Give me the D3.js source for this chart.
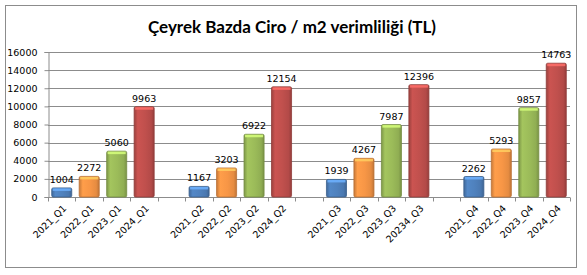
<!DOCTYPE html>
<html lang="tr">
<head>
<meta charset="UTF-8" />
<title>Çeyrek Bazda Ciro / m2 verimliliği</title>
<script src="https://d3js.org/d3.v7.min.js"></script>
<style>
  body { margin: 0; background: #fff; }
  svg { display: block; }
  .grid line { stroke: #8c8c8c; stroke-width: 1px; }
  .axis path, .axis line { stroke: #8c8c8c; }
  .axis text { font-family: "DejaVu Sans", Verdana, sans-serif; font-size: 9.5px; fill: #000; }
</style>
</head>
<body>
<script>
// kategoriler (boş olanlar çeyrekler arası boşluk)
const categories = [
  "2021_Q1", "2022_Q1", "2023_Q1", "2024_Q1", "",
  "2021_Q2", "2022_Q2", "2023_Q2", "2024_Q2", " ",
  "2021_Q3", "2022_Q3", "2023_Q3", "20234_Q3", "  ",
  "2021_Q4", "2022_Q4", "2023_Q4", "2024_Q4"
];
const values = [
  1004, 2272, 5060, 9963, null,
  1167, 3203, 6922, 12154, null,
  1939, 4267, 7987, 12396, null,
  2262, 5293, 9857, 14763
];
const yearColors = ["#4f81bd", "#f79646", "#9bbb59", "#c0504d"];
const yTicks = [0, 2000, 4000, 6000, 8000, 10000, 12000, 14000, 16000];

const width = 587, height = 275;
const plot = { left: 48, right: 570, top: 52, bottom: 197 };

const svg = d3.select("body").append("svg")
  .attr("width", width)
  .attr("height", height);

// çerçeve
svg.append("rect")
  .attr("x", 5.5).attr("y", 5.5)
  .attr("width", 571).attr("height", 262)
  .attr("fill", "#fff")
  .attr("stroke", "#8c8c8c")
  .attr("stroke-width", 1);

svg.append("text")
  .attr("x", 292)
  .attr("y", 33)
  .attr("text-anchor", "middle")
  .style("font-family", "Lato, 'Open Sans', sans-serif")
  .style("font-weight", "bold")
  .style("font-size", "17px")
  .text("Çeyrek Bazda Ciro / m2 verimliliği (TL)");

const x = d3.scaleBand()
  .domain(categories)
  .range([plot.left, plot.right])
  .paddingInner(0.27)
  .paddingOuter(0.135);

const y = d3.scaleLinear()
  .domain([0, 16000])
  .range([plot.bottom, plot.top]);

// gradyanlar
const defs = svg.append("defs");
yearColors.forEach((c, i) => {
  const g = defs.append("linearGradient")
    .attr("id", "grad" + i)
    .attr("x1", "0%").attr("x2", "100%").attr("y1", "0%").attr("y2", "0%");
  const base = d3.color(c);
  g.append("stop").attr("offset", "0%").attr("stop-color", base.darker(0.6));
  g.append("stop").attr("offset", "18%").attr("stop-color", base.brighter(0.15));
  g.append("stop").attr("offset", "55%").attr("stop-color", base);
  g.append("stop").attr("offset", "85%").attr("stop-color", base.darker(0.2));
  g.append("stop").attr("offset", "100%").attr("stop-color", base.darker(0.7));
});

// yatay ızgara
svg.append("g")
  .attr("class", "grid")
  .selectAll("line")
  .data(yTicks.slice(1))
  .enter()
  .append("line")
  .attr("x1", plot.left).attr("x2", plot.right)
  .attr("y1", d => Math.round(y(d)) + 0.5)
  .attr("y2", d => Math.round(y(d)) + 0.5);

// y ekseni
svg.append("g")
  .attr("class", "axis")
  .attr("transform", `translate(${plot.left + 0.5},0)`)
  .call(d3.axisLeft(y).tickValues(yTicks).tickSize(4).tickPadding(7).tickFormat(d3.format("d")));

// x ekseni (işaretler kategoriler arasında)
const xAxisG = svg.append("g")
  .attr("class", "axis")
  .attr("transform", `translate(0,${Math.round(plot.bottom) + 0.5})`);

xAxisG.append("line")
  .attr("x1", plot.left).attr("x2", plot.right)
  .attr("y1", 0).attr("y2", 0);

const step = x.step();
xAxisG.selectAll("line.tick")
  .data(d3.range(categories.length + 1))
  .enter()
  .append("line")
  .attr("class", "tick")
  .attr("x1", i => Math.round(plot.left + i * step) + 0.5)
  .attr("x2", i => Math.round(plot.left + i * step) + 0.5)
  .attr("y1", 0).attr("y2", 4);

xAxisG.selectAll("text")
  .data(categories)
  .enter()
  .append("text")
  .attr("transform", d => `translate(${x(d) + x.bandwidth() / 2 + 3},9) rotate(-45)`)
  .attr("text-anchor", "end")
  .attr("dy", "0.35em")
  .text(d => d.trim());

// çubuklar
const bars = svg.append("g")
  .selectAll("g.bar")
  .data(categories.map((c, i) => ({ cat: c, value: values[i], year: i % 5 })).filter(d => d.value !== null))
  .enter()
  .append("g")
  .attr("class", "bar");

bars.append("rect")
  .attr("x", d => x(d.cat))
  .attr("y", d => y(d.value))
  .attr("width", x.bandwidth())
  .attr("height", d => y(0) - y(d.value))
  .attr("rx", 1.5)
  .attr("fill", d => `url(#grad${d.year})`)
  .attr("stroke", d => d3.color(yearColors[d.year]).darker(0.8))
  .attr("stroke-width", 0.8);

// üst parlak kenar
bars.append("rect")
  .attr("x", d => x(d.cat) + 1)
  .attr("y", d => y(d.value) + 0.5)
  .attr("width", x.bandwidth() - 2)
  .attr("height", 2.5)
  .attr("fill", d => d3.color(yearColors[d.year]).brighter(0.9))
  .attr("opacity", 0.85);

// değer etiketleri
bars.append("text")
  .attr("x", d => x(d.cat) + x.bandwidth() / 2)
  .attr("y", d => y(d.value) - 5)
  .attr("text-anchor", "middle")
  .style("font-family", "'DejaVu Sans', Verdana, sans-serif")
  .style("font-size", "9.5px")
  .text(d => d.value);
</script>
</body>
</html>
